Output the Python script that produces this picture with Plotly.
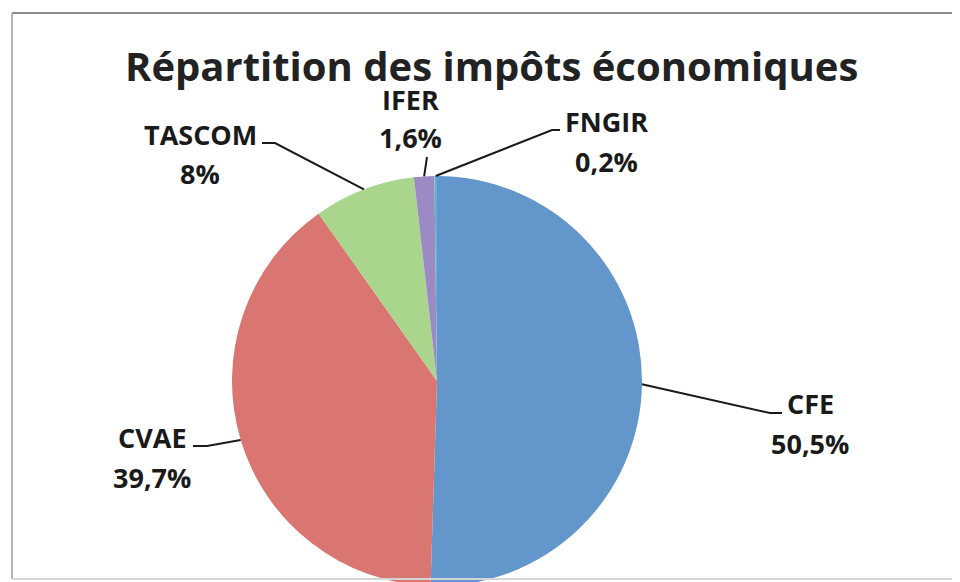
import math
import plotly.graph_objects as go

# ---- data ----
categories = ["CFE", "CVAE", "TASCOM", "IFER", "FNGIR"]
values = [50.5, 39.7, 8.0, 1.6, 0.2]
value_labels = ["50,5%", "39,7%", "8%", "1,6%", "0,2%"]
colors = ["#6397CC", "#DA7672", "#A9D58C", "#9C8AC4", "#5FB3CC"]

W, H = 960, 582
OFF = 8  # page body margin offset
# pie geometry in window pixels
CX, CY, R = 437, 381, 205

def px(x):
    return (x - OFF) / W

def py(y):
    return 1 - (y - OFF) / H

fig = go.Figure()
fig.add_trace(go.Pie(
    labels=categories,
    values=values,
    sort=False,
    direction="clockwise",
    rotation=0,
    marker=dict(colors=colors, line=dict(width=0)),
    textinfo="none",
    hoverinfo="label+percent",
    showlegend=False,
    domain=dict(x=[px(CX - R), px(CX + R)], y=[py(CY + R), py(CY - R)]),
))

# label layout: (label x, name y, value y, leader path points before pie point)
label_layout = {
    "CFE":    dict(x=810, y1=403, y2=443, path=[(782, 413), (770, 413)]),
    "CVAE":   dict(x=152, y1=437, y2=477, path=[(193, 446), (207, 446)]),
    "TASCOM": dict(x=200, y1=134, y2=173, path=[(262, 143), (275, 143)]),
    "IFER":   dict(x=410, y1=99, y2=137, path=[(427, 157)]),
    "FNGIR":  dict(x=606, y1=122, y2=162, path=[(560, 130), (552, 130)]),
}

annotations = []
shapes = []
total = sum(values)
cum = 0.0
font_lbl = dict(family="Open Sans", size=27, color="#1a1a1a", weight="bold")
for cat, v, vl in zip(categories, values, value_labels):
    mid = (cum + v / 2) / total * 2 * math.pi
    cum += v
    ex = CX + R * math.sin(mid)
    ey = CY - R * math.cos(mid)
    L = label_layout[cat]
    annotations.append(dict(x=px(L["x"]), y=py(L["y1"]), xref="paper", yref="paper",
                            text=cat, showarrow=False, font=font_lbl,
                            xanchor="center", yanchor="middle"))
    annotations.append(dict(x=px(L["x"]), y=py(L["y2"]), xref="paper", yref="paper",
                            text=vl, showarrow=False, font=font_lbl,
                            xanchor="center", yanchor="middle"))
    pts = L["path"] + [(ex, ey)]
    d = "M {} {}".format(px(pts[0][0]), py(pts[0][1]))
    for (a, b) in pts[1:]:
        d += " L {} {}".format(px(a), py(b))
    shapes.append(dict(type="path", path=d, xref="paper", yref="paper",
                       line=dict(color="#1a1a1a", width=2), layer="above"))

# title
annotations.append(dict(x=px(491), y=py(66), xref="paper", yref="paper",
                        text="Répartition des impôts économiques", showarrow=False,
                        font=dict(family="Open Sans", size=40, color="#222222", weight="bold"),
                        xanchor="center", yanchor="middle"))

# chart frame
shapes += [
    dict(type="line", xref="paper", yref="paper", x0=px(12), x1=1, y0=py(13), y1=py(13),
         line=dict(color="#8a8a8a", width=2), layer="above"),
    dict(type="line", xref="paper", yref="paper", x0=px(12), x1=px(12), y0=py(13), y1=py(579),
         line=dict(color="#b5b5b5", width=2), layer="above"),
    dict(type="line", xref="paper", yref="paper", x0=px(12), x1=1, y0=py(579), y1=py(579),
         line=dict(color="#d5d5d5", width=2), layer="above"),
]

fig.update_layout(
    width=W, height=H,
    margin=dict(l=0, r=0, t=0, b=0),
    paper_bgcolor="white",
    plot_bgcolor="white",
    annotations=annotations,
    shapes=shapes,
)

fig.write_html("out.html")
